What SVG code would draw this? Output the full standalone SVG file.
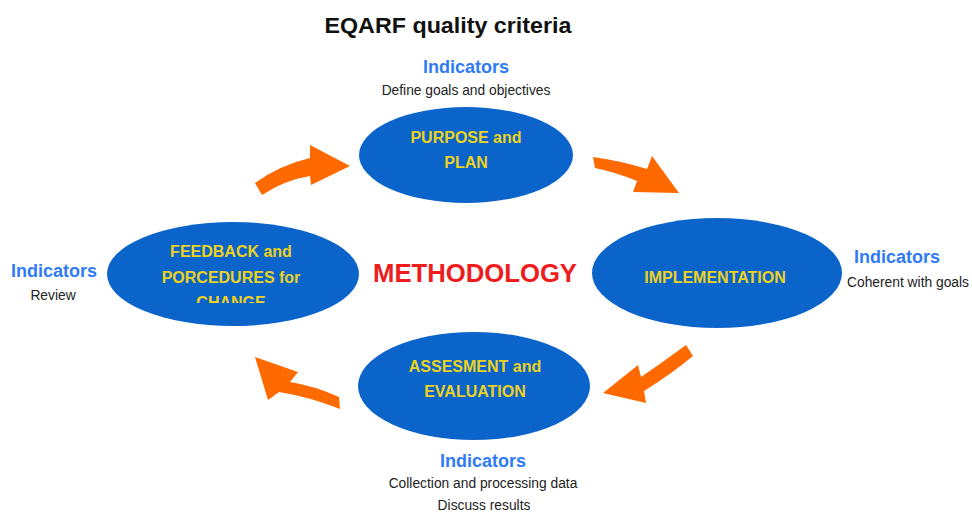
<svg xmlns="http://www.w3.org/2000/svg" width="972" height="515" viewBox="0 0 972 515">
<style>
.node{fill:#0b64c9}
.nt{font-family:"Liberation Sans",Arial,sans-serif;font-weight:bold;font-size:16px;fill:#ecd21f;text-anchor:middle}
.ind{font-family:"Liberation Sans",Arial,sans-serif;font-weight:bold;font-size:18px;fill:#2f7bf5;text-anchor:middle}
.sub{font-family:"Liberation Sans",Arial,sans-serif;font-size:13.8px;fill:#222;text-anchor:middle}
.arr{fill:#ff6a00}
</style>
<defs>
<clipPath id="clipChange"><rect x="100" y="215" width="270" height="88"/></clipPath>
</defs>
<rect width="972" height="515" fill="#ffffff"/>
<text x="448" y="33" font-family="Liberation Sans, Arial, sans-serif" font-weight="bold" font-size="22" fill="#111" text-anchor="middle" textLength="247" lengthAdjust="spacingAndGlyphs">EQARF quality criteria</text>

<g id="methodology">
<text x="475" y="282" font-family="Liberation Sans, Arial, sans-serif" font-weight="bold" font-size="25" fill="#ee1c1c" text-anchor="middle" textLength="204" lengthAdjust="spacingAndGlyphs">METHODOLOGY</text>
</g>

<g id="purpose">
<ellipse class="node" cx="466" cy="155" rx="107" ry="48"/>
<text class="nt" x="466" y="143">PURPOSE and</text>
<text class="nt" x="466" y="168">PLAN</text>
</g>
<g id="implementation">
<ellipse class="node" cx="717" cy="273" rx="125" ry="55"/>
<text class="nt" x="715" y="283">IMPLEMENTATION</text>
</g>
<g id="assesment">
<ellipse class="node" cx="474" cy="386" rx="116" ry="54"/>
<text class="nt" x="475" y="372">ASSESMENT and</text>
<text class="nt" x="475" y="397">EVALUATION</text>
</g>
<g id="feedback">
<ellipse class="node" cx="233" cy="274" rx="126" ry="52"/>
<text class="nt" x="231" y="257">FEEDBACK and</text>
<text class="nt" x="231" y="283">PORCEDURES for</text>
<text class="nt" x="231" y="308" clip-path="url(#clipChange)">CHANGE</text>
</g>

<g id="ind-top">
<text class="ind" x="466" y="73">Indicators</text>
<text class="sub" x="466" y="95">Define goals and objectives</text>
</g>
<g id="ind-right">
<text class="ind" x="897" y="263">Indicators</text>
<text class="sub" x="908" y="287">Coherent with goals</text>
</g>
<g id="ind-left">
<text class="ind" x="54" y="277">Indicators</text>
<text class="sub" x="53" y="300">Review</text>
</g>
<g id="ind-bottom">
<text class="ind" x="483" y="467">Indicators</text>
<text class="sub" x="483" y="488">Collection and processing data</text>
<text class="sub" x="484" y="510">Discuss results</text>
</g>

<g id="connectors">
<path class="arr" d="M255,183 Q280,165 310,158 L310,145 L350,166 L311,185 L310,176 Q285,180 262,195 Z"/>
<path class="arr" d="M593,157 Q622,161 647,169 L652,156 L679,193 L633,192 L637,181 Q615,172 595,168 Z"/>
<path class="arr" d="M686,345 L693,356 Q670,375 644,391 L646,403 L603,393 L638,365 L641,377 Q663,362 686,345 Z"/>
<path class="arr" d="M255,357 L298,372 L290,382 Q315,386 339,397 L340,409 Q310,397 279,392 L268,400 Z"/>
</g>
</svg>
